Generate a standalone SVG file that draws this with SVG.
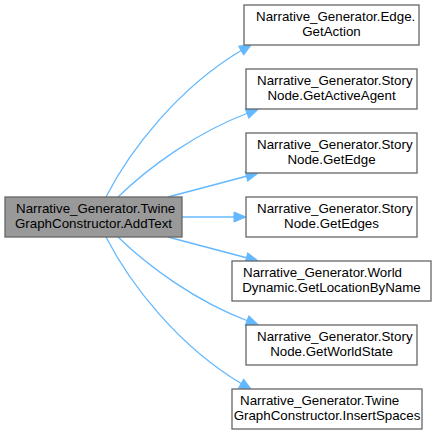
<svg xmlns="http://www.w3.org/2000/svg" width="439" height="435" viewBox="0 0 439 435">
<style>
.n rect{fill:#ffffff;stroke:#666666;stroke-width:1.3}
#main rect{fill:#999999}
text{font-family:"Liberation Sans",Arial,sans-serif;font-size:13.33px;fill:#000000}
.s{text-anchor:start}
.m{text-anchor:middle}
#edges path{fill:none;stroke:#63b8ff;stroke-width:1.3}
</style>
<defs>
<marker id="ah" markerUnits="userSpaceOnUse" markerWidth="14" markerHeight="12" refX="1" refY="5" orient="auto" overflow="visible">
<path d="M0,0 L12,5 L0,10 Z" fill="#63b8ff" stroke="#63b8ff" stroke-width="1"/>
</marker>
</defs>
<rect width="439" height="435" fill="#ffffff"/>
<g id="edges">
<path d="M106,197 C130,150 178,88 242,50" marker-end="url(#ah)"/>
<path d="M118,197 C148,168 195,133 248,113" marker-end="url(#ah)"/>
<path d="M168,197 L247.4,176" marker-end="url(#ah)"/>
<path d="M182,217 L235,217" marker-end="url(#ah)"/>
<path d="M168,237 L247.4,258" marker-end="url(#ah)"/>
<path d="M118,237 C148,266 195,301 248,321" marker-end="url(#ah)"/>
<path d="M106,237 C130,284 178,346 242,384" marker-end="url(#ah)"/>
</g>
<g id="main" class="n">
<rect x="5" y="197" width="177" height="40"/>
<text class="s" x="16" y="212.5">Narrative_Generator.Twine</text>
<text class="m" x="93.5" y="227.5">GraphConstructor.AddText</text>
</g>
<g id="n1" class="n">
<rect x="244" y="5" width="175" height="40"/>
<text class="s" x="256" y="20.5">Narrative_Generator.Edge.</text>
<text class="m" x="331.5" y="35.5">GetAction</text>
</g>
<g id="n2" class="n">
<rect x="246" y="69" width="171" height="40"/>
<text class="s" x="257" y="84.5">Narrative_Generator.Story</text>
<text class="m" x="331.5" y="99.5">Node.GetActiveAgent</text>
</g>
<g id="n3" class="n">
<rect x="246" y="133" width="171" height="40"/>
<text class="s" x="257" y="148.5">Narrative_Generator.Story</text>
<text class="m" x="331.5" y="163.5">Node.GetEdge</text>
</g>
<g id="n4" class="n">
<rect x="246" y="197" width="171" height="40"/>
<text class="s" x="257" y="212.5">Narrative_Generator.Story</text>
<text class="m" x="331.5" y="227.5">Node.GetEdges</text>
</g>
<g id="n5" class="n">
<rect x="232" y="261" width="199" height="40"/>
<text class="s" x="243" y="276.5">Narrative_Generator.World</text>
<text class="m" x="331.5" y="291.5">Dynamic.GetLocationByName</text>
</g>
<g id="n6" class="n">
<rect x="246" y="325" width="171" height="40"/>
<text class="s" x="257" y="340.5">Narrative_Generator.Story</text>
<text class="m" x="331.5" y="355.5">Node.GetWorldState</text>
</g>
<g id="n7" class="n">
<rect x="232" y="389" width="190" height="40"/>
<text class="s" x="240" y="404.5">Narrative_Generator.Twine</text>
<text class="m" x="327" y="419.5">GraphConstructor.InsertSpaces</text>
</g>
</svg>
